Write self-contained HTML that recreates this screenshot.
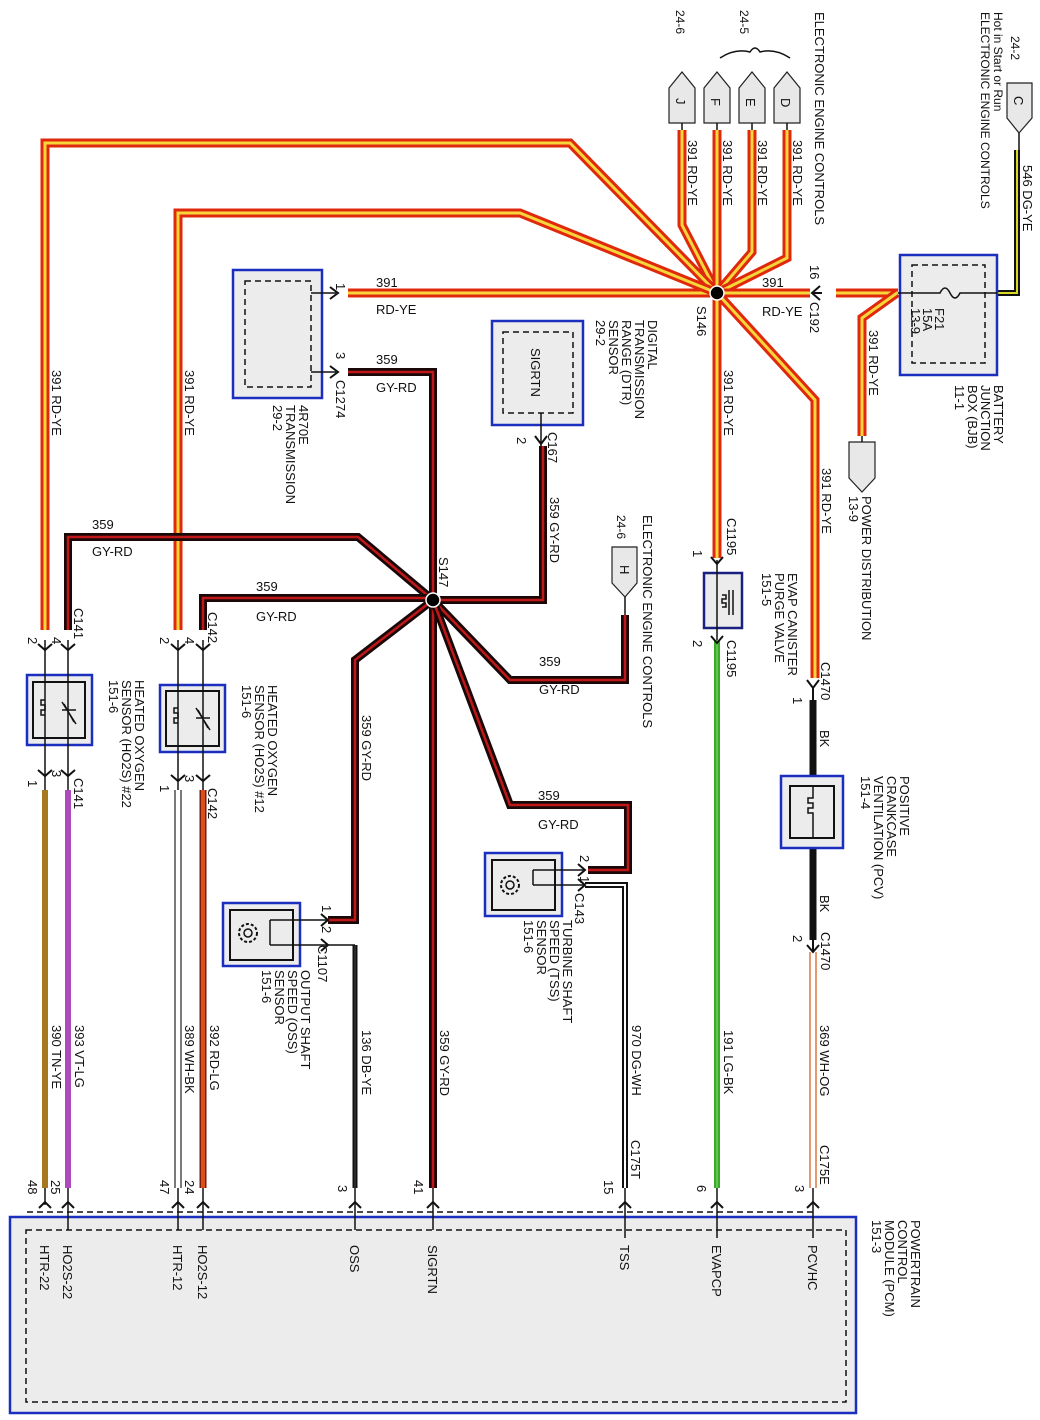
<!DOCTYPE html>
<html><head><meta charset="utf-8"><style>
html,body{margin:0;padding:0;background:#fff;}
svg{display:block;}
text{font-family:"Liberation Sans",Arial,sans-serif;font-size:13px;fill:#111;}
.s{font-size:12px;}
.ry1{stroke:#e0280c;stroke-width:9;fill:none;stroke-linejoin:miter;}
.ry2{stroke:#f6d63a;stroke-width:3;fill:none;}
.gr1{stroke:#1a0808;stroke-width:8;fill:none;}
.gr2{stroke:#c01818;stroke-width:2.5;fill:none;}
.bx{fill:#ececec;stroke:#1a2fc0;stroke-width:2.5;}
.ib{fill:none;stroke:#111;stroke-width:1.5;stroke-dasharray:6,4;}
.ln{stroke:#111;stroke-width:1.5;fill:none;}
.cn{stroke:#111;stroke-width:2;fill:none;}
</style></head><body>
<svg width="1040" height="1420" viewBox="0 0 1040 1420" xmlns="http://www.w3.org/2000/svg">
<rect width="1040" height="1420" fill="#fff"/>

<g fill="#e8e8e8" stroke="#222" stroke-width="1.2">
<path d="M669,88 L682,72 L695,88 V123 H669 Z"/>
<path d="M704,88 L717,72 L730,88 V123 H704 Z"/>
<path d="M739,88 L752,72 L765,88 V123 H739 Z"/>
<path d="M774,88 L787,72 L800,88 V123 H774 Z"/>
<path d="M1007,83 H1032 V118 L1019,133 L1007,118 Z"/>
<path d="M612,547 H637 V583 L625,597 L612,583 Z"/>
<path d="M849,442 H875 V478 L862,492 L849,478 Z"/>
</g>
<g transform="translate(676,98) rotate(90)"><text>J</text></g>
<g transform="translate(711,98) rotate(90)"><text>F</text></g>
<g transform="translate(746,98) rotate(90)"><text>E</text></g>
<g transform="translate(781,98) rotate(90)"><text>D</text></g>
<g transform="translate(1014,96) rotate(90)"><text>C</text></g>
<g transform="translate(620,565) rotate(90)"><text>H</text></g>
<path d="M720,58 Q735,48 750,52 Q755,44 760,52 Q775,48 790,58" class="ln" stroke-width="1"/>
<path class="ln" d="M682,123 V130 M717,123 V130 M752,123 V130 M787,123 V130 M1019,133 V150 M625,597 V615 M862,442 V436"/>

<g>
<path class="ry1" d="M682,130 V225 L717,293"/><path class="ry2" d="M682,130 V225 L717,293"/>
<path class="ry1" d="M717,130 V558"/><path class="ry2" d="M717,130 V558"/>
<path class="ry1" d="M752,130 V252 L717,293"/><path class="ry2" d="M752,130 V252 L717,293"/>
<path class="ry1" d="M787,130 V258 L717,293"/><path class="ry2" d="M787,130 V258 L717,293"/>
<path class="ry1" d="M348,293 H810"/><path class="ry2" d="M348,293 H810"/>
<path class="ry1" d="M836,293 H898"/><path class="ry2" d="M836,293 H898"/>
<path class="ry1" d="M45,630 V143 H570 L717,293"/><path class="ry2" d="M45,630 V143 H570 L717,293"/>
<path class="ry1" d="M178,630 V213 H520 L717,293"/><path class="ry2" d="M178,630 V213 H520 L717,293"/>
<path class="ry1" d="M717,293 L815,400 V678"/><path class="ry2" d="M717,293 L815,400 V678"/>
<path class="ry1" d="M897,293 L862,318 V436"/><path class="ry2" d="M897,293 L862,318 V436"/>
</g>
<g>
<path class="gr1" d="M348,372 H433 V1188"/><path class="gr2" d="M348,372 H433 V1188"/>
<path class="gr1" d="M543,446 V600 H433"/><path class="gr2" d="M543,446 V600 H433"/>
<path class="gr1" d="M68,630 V537 H358 L433,600"/><path class="gr2" d="M68,630 V537 H358 L433,600"/>
<path class="gr1" d="M203,630 V598 H433"/><path class="gr2" d="M203,630 V598 H433"/>
<path class="gr1" d="M433,600 L510,680 H625 V615"/><path class="gr2" d="M433,600 L510,680 H625 V615"/>
<path class="gr1" d="M433,600 L355,660 V920 H328"/><path class="gr2" d="M433,600 L355,660 V920 H328"/>
<path class="gr1" d="M433,600 L510,805 H628 V870 H588"/><path class="gr2" d="M433,600 L510,805 H628 V870 H588"/>
</g>
<circle cx="717" cy="293" r="7" fill="#000" stroke="#fff" stroke-width="1.5"/>
<circle cx="433" cy="600" r="7" fill="#000" stroke="#fff" stroke-width="1.5"/>

<path d="M1017,150 V293 H997" stroke="#111" stroke-width="6" fill="none"/>
<path d="M1017,150 V293 H997" stroke="#d8d820" stroke-width="2" fill="none"/>
<path d="M45,790 V1188" stroke="#a8781e" stroke-width="6"/>
<path d="M68,790 V1188" stroke="#b048c0" stroke-width="6"/>
<path d="M175,790 V1188 M181,790 V1188" stroke="#222" stroke-width="1.2"/>
<path d="M203,790 V1188" stroke="#7a1a08" stroke-width="7"/>
<path d="M203,790 V1188" stroke="#d8501c" stroke-width="4"/>
<path d="M355,945 V1188" stroke="#111" stroke-width="5"/>
<path d="M355,945 V1188" stroke="#444" stroke-width="1"/>
<path d="M585,885 H625 V1188" stroke="#111" stroke-width="6" fill="none"/>
<path d="M585,885 H625 V1188" stroke="#fff" stroke-width="2" fill="none"/>
<path d="M717,640 V1188" stroke="#3aa82a" stroke-width="6"/>
<path d="M717,640 V1188" stroke="#60c850" stroke-width="2"/>
<path d="M813,700 V940" stroke="#111" stroke-width="7"/>
<path d="M810,952 V1188 M816,952 V1188" stroke="#d86020" stroke-width="1.3"/>

<rect class="bx" x="233" y="270" width="89" height="128"/>
<rect class="ib" x="245" y="281" width="66" height="106"/>
<path class="ln" d="M311,293 H336 M311,372 H336"/>
<path class="cn" d="M330,287 L338,293 L330,299 M330,366 L338,372 L330,378"/>
<rect class="bx" x="492" y="321" width="91" height="104"/>
<rect class="ib" x="503" y="332" width="70" height="81"/>
<g transform="translate(531,348) rotate(90)"><text>SIGRTN</text></g>
<path class="ln" d="M541,413 V446"/><path class="cn" d="M535,436 L541,444 L547,436"/>

<rect class="bx" x="900" y="255" width="97" height="120"/>
<rect class="ib" x="912" y="265" width="73" height="98"/>
<path class="ln" d="M898,293 H940 Q945,283 950,293 Q955,303 960,293 H997" stroke-width="2"/>
<g transform="translate(935,308) rotate(90)"><text>F21<tspan x="0" dy="12">15A</tspan><tspan x="0" dy="12">13-9</tspan></text></g>

<path class="cn" d="M812,293 H822 M820,286 L812,293 L820,300"/>

<rect x="704" y="573" width="38" height="55" fill="#ececec" stroke="#1a2080" stroke-width="2.5"/>
<path class="ln" d="M717,560 V640"/>
<path class="cn" d="M711,557 L717,564 L723,557 M711,636 L717,643 L723,636"/>
<path class="ln" d="M722,595 h4 v4 h-4 v4 h4 v4 h-4 M729,590 V615 M733,590 V615"/>
<rect class="bx" x="781" y="776" width="62" height="72"/>
<rect x="790" y="786" width="44" height="52" fill="none" stroke="#111" stroke-width="2"/>
<path class="ln" d="M813,786 V798 h-5 v5 h5 v5 h-5 v5 h5 v25"/>
<path class="cn" d="M807,680 L813,688 L819,680 M813,688 V700 M807,945 L813,952 L819,945 M813,940 V952"/>

<rect class="bx" x="27" y="675" width="65" height="70"/>
<rect x="33" y="682" width="52" height="56" fill="none" stroke="#111" stroke-width="2"/>
<path class="ln" d="M45,640 V790 M68,640 V790"/>
<path class="ln" d="M45,700 h-4 v5 h4 v5 h-4 v5 h4 M62,702 L76,724 M62,710 H76 M64,704 L74,722"/>
<path class="cn" d="M38,644 L45,650 L52,644 M61,644 L68,650 L75,644 M38,770 L45,776 L52,770 M61,770 L68,776 L75,770"/>
<rect class="bx" x="160" y="685" width="65" height="67"/>
<rect x="166" y="691" width="53" height="55" fill="none" stroke="#111" stroke-width="2"/>
<path class="ln" d="M178,640 V790 M203,640 V790"/>
<path class="ln" d="M178,708 h-4 v5 h4 v5 h-4 v5 h4 M196,708 L210,730 M196,718 H210 M198,710 L208,728"/>
<path class="cn" d="M171,644 L178,650 L185,644 M196,644 L203,650 L210,644 M171,775 L178,781 L185,775 M196,775 L203,781 L210,775"/>

<rect class="bx" x="485" y="853" width="77" height="63"/>
<rect x="492" y="860" width="63" height="50" fill="none" stroke="#111" stroke-width="2"/>
<circle cx="510" cy="885" r="9" fill="none" stroke="#111" stroke-width="2" stroke-dasharray="3,2"/>
<circle cx="510" cy="885" r="4" fill="none" stroke="#111" stroke-width="1.5"/>
<path class="ln" d="M533,870 H585 M533,885 H585 M533,870 v15"/>
<path class="cn" d="M578,864 L585,870 L578,876 M578,879 L585,885 L578,891"/>
<rect class="bx" x="223" y="903" width="77" height="63"/>
<rect x="230" y="910" width="63" height="50" fill="none" stroke="#111" stroke-width="2"/>
<circle cx="248" cy="933" r="9" fill="none" stroke="#111" stroke-width="2" stroke-dasharray="3,2"/>
<circle cx="248" cy="933" r="4" fill="none" stroke="#111" stroke-width="1.5"/>
<path class="ln" d="M270,920 H328 M270,945 H355 M270,920 v25"/>
<path class="cn" d="M321,914 L328,920 L321,926 M321,939 L328,945 L321,951"/>

<rect x="10" y="1217" width="846" height="196" fill="#ececec" stroke="#1a2fc0" stroke-width="2.5"/>
<rect class="ib" x="26" y="1230" width="820" height="172"/>
<path class="ib" d="M27,1212 H815"/>
<path class="ln" d="M68,1188 V1230 M178,1188 V1230 M203,1188 V1230 M355,1188 V1230 M433,1188 V1230 M625,1188 V1238 M717,1188 V1238 M813,1188 V1238 M45,1188 V1205"/>
<path class="cn" d="M39,1208 L45,1202 L51,1208 M62,1208 L68,1202 L74,1208 M172,1208 L178,1202 L184,1208 M197,1208 L203,1202 L209,1208 M349,1208 L355,1202 L361,1208 M427,1208 L433,1202 L439,1208 M619,1208 L625,1202 L631,1208 M711,1208 L717,1202 L723,1208 M807,1208 L813,1202 L819,1208"/>

<g>
<g transform="translate(676,10) rotate(90)"><text class="s">24-6</text></g>
<g transform="translate(740,10) rotate(90)"><text class="s">24-5</text></g>
<g transform="translate(815,12) rotate(90)"><text>ELECTRONIC ENGINE CONTROLS</text></g>
<g transform="translate(1011,36) rotate(90)"><text class="s">24-2</text></g>
<g transform="translate(994,12) rotate(90)"><text class="s">Hot in Start or Run<tspan x="0" dy="13">ELECTRONIC ENGINE CONTROLS</tspan></text></g>
<g transform="translate(1023,165) rotate(90)"><text>546   DG-YE</text></g>
<g transform="translate(688,140) rotate(90)"><text>391   RD-YE</text></g>
<g transform="translate(723,140) rotate(90)"><text>391   RD-YE</text></g>
<g transform="translate(758,140) rotate(90)"><text>391   RD-YE</text></g>
<g transform="translate(793,140) rotate(90)"><text>391   RD-YE</text></g>
<g transform="translate(52,370) rotate(90)"><text>391   RD-YE</text></g>
<g transform="translate(185,370) rotate(90)"><text>391   RD-YE</text></g>
<g transform="translate(724,370) rotate(90)"><text>391   RD-YE</text></g>
<g transform="translate(822,468) rotate(90)"><text>391   RD-YE</text></g>
<g transform="translate(869,330) rotate(90)"><text>391   RD-YE</text></g>
<g transform="translate(550,497) rotate(90)"><text>359   GY-RD</text></g>
<g transform="translate(362,715) rotate(90)"><text>359   GY-RD</text></g>
<g transform="translate(52,1025) rotate(90)"><text>390   TN-YE</text></g>
<g transform="translate(75,1025) rotate(90)"><text>393   VT-LG</text></g>
<g transform="translate(185,1025) rotate(90)"><text>389   WH-BK</text></g>
<g transform="translate(210,1025) rotate(90)"><text>392   RD-LG</text></g>
<g transform="translate(362,1030) rotate(90)"><text>136   DB-YE</text></g>
<g transform="translate(440,1030) rotate(90)"><text>359   GY-RD</text></g>
<g transform="translate(632,1025) rotate(90)"><text>970   DG-WH</text></g>
<g transform="translate(724,1030) rotate(90)"><text>191   LG-BK</text></g>
<g transform="translate(820,1025) rotate(90)"><text>369   WH-OG</text></g>
<g transform="translate(820,730) rotate(90)"><text>BK</text></g>
<g transform="translate(820,895) rotate(90)"><text>BK</text></g>
<g transform="translate(631,1140) rotate(90)"><text>C175T</text></g>
<g transform="translate(820,1145) rotate(90)"><text>C175E</text></g>
<g transform="translate(28,1180) rotate(90)"><text>48</text></g>
<g transform="translate(51,1180) rotate(90)"><text>25</text></g>
<g transform="translate(160,1180) rotate(90)"><text>47</text></g>
<g transform="translate(185,1180) rotate(90)"><text>24</text></g>
<g transform="translate(338,1185) rotate(90)"><text>3</text></g>
<g transform="translate(414,1180) rotate(90)"><text>41</text></g>
<g transform="translate(604,1180) rotate(90)"><text>15</text></g>
<g transform="translate(697,1185) rotate(90)"><text>6</text></g>
<g transform="translate(795,1185) rotate(90)"><text>3</text></g>
<g transform="translate(40,1245) rotate(90)"><text>HTR-22</text></g>
<g transform="translate(63,1245) rotate(90)"><text>HO2S-22</text></g>
<g transform="translate(173,1245) rotate(90)"><text>HTR-12</text></g>
<g transform="translate(198,1245) rotate(90)"><text>HO2S-12</text></g>
<g transform="translate(350,1245) rotate(90)"><text>OSS</text></g>
<g transform="translate(428,1245) rotate(90)"><text>SIGRTN</text></g>
<g transform="translate(620,1245) rotate(90)"><text>TSS</text></g>
<g transform="translate(712,1245) rotate(90)"><text>EVAPCP</text></g>
<g transform="translate(808,1245) rotate(90)"><text>PCVHC</text></g>
<g transform="translate(911,1220) rotate(90)"><text>POWERTRAIN<tspan x="0" dy="13">CONTROL</tspan><tspan x="0" dy="13">MODULE (PCM)</tspan><tspan x="0" dy="13">151-3</tspan></text></g>
<g transform="translate(336,283) rotate(90)"><text>1</text></g>
<g transform="translate(336,352) rotate(90)"><text>3</text></g>
<g transform="translate(336,380) rotate(90)"><text>C1274</text></g>
<g transform="translate(299,405) rotate(90)"><text>4R70E<tspan x="0" dy="13">TRANSMISSION</tspan><tspan x="0" dy="13">29-2</tspan></text></g>
<g transform="translate(648,320) rotate(90)"><text>DIGITAL<tspan x="0" dy="13">TRANSMISSION</tspan><tspan x="0" dy="13">RANGE (DTR)</tspan><tspan x="0" dy="13">SENSOR</tspan><tspan x="0" dy="13">29-2</tspan></text></g>
<g transform="translate(548,432) rotate(90)"><text>C167</text></g>
<g transform="translate(517,437) rotate(90)"><text>2</text></g>
<g transform="translate(697,306) rotate(90)"><text>S146</text></g>
<g transform="translate(810,265) rotate(90)"><text>16</text></g>
<g transform="translate(810,302) rotate(90)"><text>C192</text></g>
<g transform="translate(994,385) rotate(90)"><text>BATTERY<tspan x="0" dy="13">JUNCTION</tspan><tspan x="0" dy="13">BOX (BJB)</tspan><tspan x="0" dy="13">11-1</tspan></text></g>
<g transform="translate(862,496) rotate(90)"><text>POWER DISTRIBUTION<tspan x="0" dy="13">13-9</tspan></text></g>
<g transform="translate(643,515) rotate(90)"><text>ELECTRONIC ENGINE CONTROLS</text></g>
<g transform="translate(617,515) rotate(90)"><text class="s">24-6</text></g>
<g transform="translate(439,557) rotate(90)"><text>S147</text></g>
<g transform="translate(727,518) rotate(90)"><text>C1195</text></g>
<g transform="translate(693,550) rotate(90)"><text>1</text></g>
<g transform="translate(693,640) rotate(90)"><text>2</text></g>
<g transform="translate(727,640) rotate(90)"><text>C1195</text></g>
<g transform="translate(788,573) rotate(90)"><text>EVAP CANISTER<tspan x="0" dy="13">PURGE VALVE</tspan><tspan x="0" dy="13">151-5</tspan></text></g>
<g transform="translate(821,662) rotate(90)"><text>C1470</text></g>
<g transform="translate(793,697) rotate(90)"><text>1</text></g>
<g transform="translate(900,776) rotate(90)"><text>POSITIVE<tspan x="0" dy="13">CRANKCASE</tspan><tspan x="0" dy="13">VENTILATION (PCV)</tspan><tspan x="0" dy="13">151-4</tspan></text></g>
<g transform="translate(793,935) rotate(90)"><text>2</text></g>
<g transform="translate(821,932) rotate(90)"><text>C1470</text></g>
<g transform="translate(74,608) rotate(90)"><text>C141</text></g>
<g transform="translate(28,637) rotate(90)"><text>2</text></g>
<g transform="translate(52,637) rotate(90)"><text>4</text></g>
<g transform="translate(135,680) rotate(90)"><text>HEATED OXYGEN<tspan x="0" dy="13">SENSOR (HO2S) #22</tspan><tspan x="0" dy="13">151-6</tspan></text></g>
<g transform="translate(74,778) rotate(90)"><text>C141</text></g>
<g transform="translate(28,780) rotate(90)"><text>1</text></g>
<g transform="translate(52,770) rotate(90)"><text>3</text></g>
<g transform="translate(208,612) rotate(90)"><text>C142</text></g>
<g transform="translate(160,637) rotate(90)"><text>2</text></g>
<g transform="translate(185,637) rotate(90)"><text>4</text></g>
<g transform="translate(268,685) rotate(90)"><text>HEATED OXYGEN<tspan x="0" dy="13">SENSOR (HO2S) #12</tspan><tspan x="0" dy="13">151-6</tspan></text></g>
<g transform="translate(208,788) rotate(90)"><text>C142</text></g>
<g transform="translate(160,785) rotate(90)"><text>1</text></g>
<g transform="translate(185,775) rotate(90)"><text>3</text></g>
<g transform="translate(580,855) rotate(90)"><text>2</text></g>
<g transform="translate(580,876) rotate(90)"><text>1</text></g>
<g transform="translate(575,893) rotate(90)"><text>C143</text></g>
<g transform="translate(563,920) rotate(90)"><text>TURBINE SHAFT<tspan x="0" dy="13">SPEED (TSS)</tspan><tspan x="0" dy="13">SENSOR</tspan><tspan x="0" dy="13">151-6</tspan></text></g>
<g transform="translate(322,905) rotate(90)"><text>1</text></g>
<g transform="translate(322,926) rotate(90)"><text>2</text></g>
<g transform="translate(318,945) rotate(90)"><text>C1107</text></g>
<g transform="translate(301,970) rotate(90)"><text>OUTPUT SHAFT<tspan x="0" dy="13">SPEED (OSS)</tspan><tspan x="0" dy="13">SENSOR</tspan><tspan x="0" dy="13">151-6</tspan></text></g>
</g>

<text x="376" y="287">391</text><text x="376" y="314">RD-YE</text>
<text x="762" y="287">391</text><text x="762" y="316">RD-YE</text>
<text x="376" y="364">359</text><text x="376" y="392">GY-RD</text>
<text x="92" y="529">359</text><text x="92" y="556">GY-RD</text>
<text x="256" y="591">359</text><text x="256" y="621">GY-RD</text>
<text x="539" y="666">359</text><text x="539" y="694">GY-RD</text>
<text x="538" y="800">359</text><text x="538" y="829">GY-RD</text>
</svg>
</body></html>
